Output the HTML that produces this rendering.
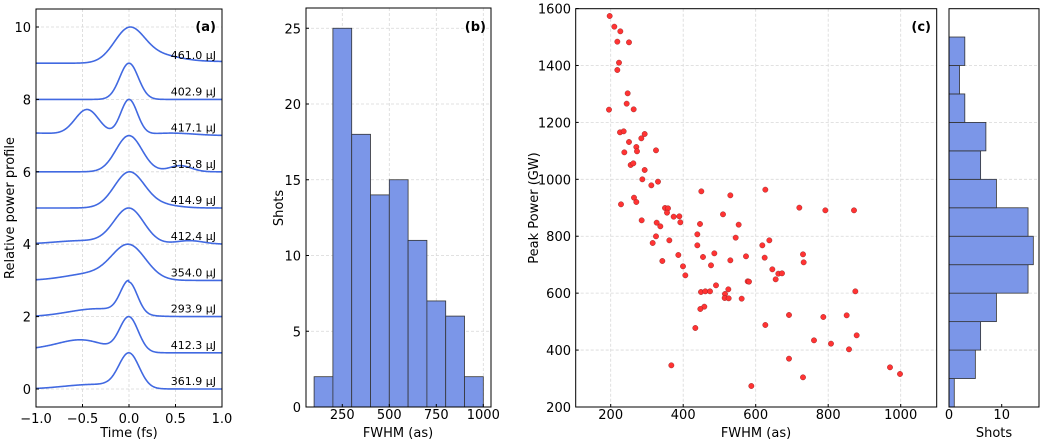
<!DOCTYPE html>
<html><head><meta charset="utf-8"><style>
html,body{margin:0;padding:0;background:#fff;}
svg{display:block;font-family:"DejaVu Sans","Liberation Sans",sans-serif;}
</style></head><body>
<svg id="s" width="1043" height="440" viewBox="0 0 1043 440" xmlns="http://www.w3.org/2000/svg">
<g id="a"></g>
</svg>
<script>
const NS="http://www.w3.org/2000/svg";
const svg=document.getElementById('s');
function el(t,at,txt){const e=document.createElementNS(NS,t);for(const k in at)e.setAttribute(k,at[k]);if(txt!==undefined)e.textContent=txt;svg.appendChild(e);return e;}
function txt(x,y,s,opt={}){return el('text',Object.assign({x:x,y:y,'font-size':opt.fs||13,'text-anchor':opt.a||'middle',fill:'#000','font-weight':opt.w||'normal'},opt.extra||{}),s);}
const grid={stroke:'#d8d8d8','stroke-width':0.8,'stroke-dasharray':'3,2'};
const blue='#7b96e8';
// ===== Panel a =====
const aL=36,aR=222,aT=9,aB=407;
const ax=t=>aL+(t+1)/2*(aR-aL), ay=v=>389-v*36.2;
[-0.5,0,0.5].forEach(t=>el('line',Object.assign({x1:ax(t),x2:ax(t),y1:aT,y2:aB},grid)));
[0,2,4,6,8,10].forEach(v=>el('line',Object.assign({x1:aL,x2:aR,y1:ay(v),y2:ay(v)},grid)));
const g=(t,m,s)=>Math.exp(-0.5*((t-m)/s)**2);
const curves=[
 t=>g(t,0,0.11)+0.1*g(t,-0.4,0.3)+0.05*(t<-0.3?1:g(t,-0.3,0.1))*Math.min(1,(t+1.05)),
 t=>g(t,0,0.1)+0.35*g(t,-0.5,0.25)+0.1*g(t,-1,0.3),
 t=>g(t,0,0.09)+0.22*g(t,-0.35,0.3)+0.05*(t<0?(t+1):0),
 t=>g(t,0,0.18)+0.2*g(t,-0.4,0.28),
 t=>g(t,0,0.16)+0.1*g(t,0.65,0.15)+0.1*g(t,-0.5,0.3),
 t=>g(t,0,0.16)+0.1*g(t,0.3,0.2),
 t=>g(t,0,0.14)+0.17*g(t,0.55,0.12),
 t=>g(t,0,0.09)+0.72*g(t,-0.45,0.13)+0.07*g(t,0.45,0.25)+0.07*g(t,-1,0.3),
 t=>g(t,0,0.1),
 t=>g(t,0,0.16)+0.25*g(t,0.3,0.25)+0.05*g(t,1,0.3)
];
const labs=['361.9','412.3','293.9','354.0','412.4','414.9','315.8','417.1','402.9','461.0'];
curves.forEach((f,k)=>{let mx=0;for(let t=-1;t<=1;t+=0.005)mx=Math.max(mx,f(t));
 let d='';for(let i=0;i<=400;i++){const t=-1+i/200;d+=(i?'L':'M')+ax(t).toFixed(2)+','+ay(k+f(t)/mx).toFixed(2);}
 el('path',{d:d,fill:'none',stroke:'#4169e1','stroke-width':1.6});
 txt(216,ay(k)-4,labs[k]+' μJ',{fs:11,a:'end'});
});
el('rect',{x:aL,y:aT,width:aR-aL,height:aB-aT,fill:'none',stroke:'#000','stroke-width':1});
[0,2,4,6,8,10].forEach(v=>{txt(31,ay(v)+5,String(v),{a:'end'});el('line',{x1:aL,x2:aL+3,y1:ay(v),y2:ay(v),stroke:'#000'});});
[[-1,'−1.0'],[-0.5,'−0.5'],[0,'0.0'],[0.5,'0.5'],[1,'1.0']].forEach(([t,s])=>{txt(ax(t),423,s);el('line',{x1:ax(t),x2:ax(t),y1:aB,y2:aB-3,stroke:'#000'});});
txt(129,437,'Time (fs)');
txt(0,0,'Relative power profile',{extra:{transform:'translate(14,208) rotate(-90)'}});
txt(216,31,'(a)',{a:'end',w:'bold'});
// ===== Panel b =====
const bL=306,bR=491,bT=8,bB=407;
const bx=v=>342.3+(v-250)*0.188, by=v=>407-v*15.15;
[250,500,750,1000].forEach(v=>el('line',Object.assign({x1:bx(v),x2:bx(v),y1:bT,y2:bB},grid)));
[5,10,15,20,25].forEach(v=>el('line',Object.assign({x1:bL,x2:bR,y1:by(v),y2:by(v)},grid)));
[2,25,18,14,15,11,7,6,2].forEach((h,i)=>{const x0=bx(100+i*100),x1=bx(200+i*100);
 el('rect',{x:x0,y:by(h),width:x1-x0,height:by(0)-by(h),fill:blue,stroke:'#333','stroke-width':0.8});});
el('rect',{x:bL,y:bT,width:bR-bL,height:bB-bT,fill:'none',stroke:'#000','stroke-width':1});
[0,5,10,15,20,25].forEach(v=>{txt(301,by(v)+5,String(v),{a:'end'});el('line',{x1:bL,x2:bL+3,y1:by(v),y2:by(v),stroke:'#000'});});
[250,500,750,1000].forEach(v=>{txt(bx(v),419,String(v));el('line',{x1:bx(v),x2:bx(v),y1:bB,y2:bB-3,stroke:'#000'});});
txt(398,437,'FWHM (as)');
txt(0,0,'Shots',{extra:{transform:'translate(283,208) rotate(-90)'}});
txt(486,31,'(b)',{a:'end',w:'bold'});
// ===== Panel c =====
const cL=575.7,cR=936.7,cT=8.7,cB=407;
const cx=v=>610.7+(v-200)*0.3625, cy=v=>407-(v-200)*0.2846;
[200,400,600,800,1000].forEach(v=>el('line',Object.assign({x1:cx(v),x2:cx(v),y1:cT,y2:cB},grid)));
[400,600,800,1000,1200,1400].forEach(v=>el('line',Object.assign({x1:cL,x2:cR,y1:cy(v),y2:cy(v)},grid)));
const pts=[[269,48],[283,80],[301,94],[292,125],[327,127],[297,188],[292,210],[323,280],[320,311],[267,329],[341,328],[300,397],[311,394],[327,426],[313,457],[349,441],[351,454],[364,415],[374,402],[332,495],[340,490],[374,510],[408,451],[367,538],[394,556],[414,545],[342,593],[349,606],[303,613],[365,661],[410,668],[421,679],[435,624],[444,625],[441,638],[461,650],[478,649],[481,667],[408,709],[398,729],[448,721],[475,765],[427,783],[489,799],[496,826],[544,574],[631,586],[609,643],[540,672],[532,703],[532,736],[583,760],[573,796],[588,856],[543,876],[556,874],[570,874],[625,868],[615,882],[614,894],[626,895],[665,896],[553,920],[541,927],[526,984],[454,1096],[656,674],[647,713],[631,781],[549,771],[678,769],[683,844],[687,845],[736,569],[727,736],[748,721],[734,773],[757,808],[767,838],[775,821],[786,820],[838,623],[916,631],[1002,631],[849,763],[851,787],[1006,874],[807,945],[910,951],[980,946],[736,975],[1010,1006],[882,1021],[933,1031],[987,1048],[807,1076],[849,1132],[1110,1102],[1140,1122],[694,1158]];
pts.forEach(([x,y])=>el('circle',{cx:520+x/3,cy:y/3,r:2.7,fill:'#ff3333',stroke:'#8b1a1a','stroke-width':0.4}));
el('rect',{x:cL,y:cT,width:cR-cL,height:cB-cT,fill:'none',stroke:'#000','stroke-width':1});
[200,400,600,800,1000,1200,1400,1600].forEach(v=>{txt(571,cy(v)+5,String(v),{a:'end'});el('line',{x1:cL,x2:cL+3,y1:cy(v),y2:cy(v),stroke:'#000'});});
[200,400,600,800,1000].forEach(v=>{txt(cx(v),419,String(v));el('line',{x1:cx(v),x2:cx(v),y1:cB,y2:cB-3,stroke:'#000'});});
txt(756,437,'FWHM (as)');
txt(0,0,'Peak Power (GW)',{extra:{transform:'translate(538,208) rotate(-90)'}});
txt(931,31,'(c)',{a:'end',w:'bold'});
// ===== Marginal =====
const mL=949,mR=1039;
const mx=v=>949+v*5.27;
[400,600,800,1000,1200,1400].forEach(v=>el('line',Object.assign({x1:mL,x2:mR,y1:cy(v),y2:cy(v)},grid)));
[1,5,6,9,15,16,15,9,6,7,3,2,3].forEach((w,i)=>{const y0=cy(300+i*100),y1=cy(200+i*100);
 el('rect',{x:mL,y:y0,width:mx(w)-mL,height:y1-y0,fill:blue,stroke:'#333','stroke-width':0.8});});
el('rect',{x:mL,y:cT,width:mR-mL,height:cB-cT,fill:'none',stroke:'#000','stroke-width':1});
[[0,'0'],[10,'10']].forEach(([v,s])=>{txt(mx(v),419,s);el('line',{x1:mx(v),x2:mx(v),y1:cB,y2:cB-3,stroke:'#000'});});
txt(994,437,'Shots');
</script>
</body></html>
